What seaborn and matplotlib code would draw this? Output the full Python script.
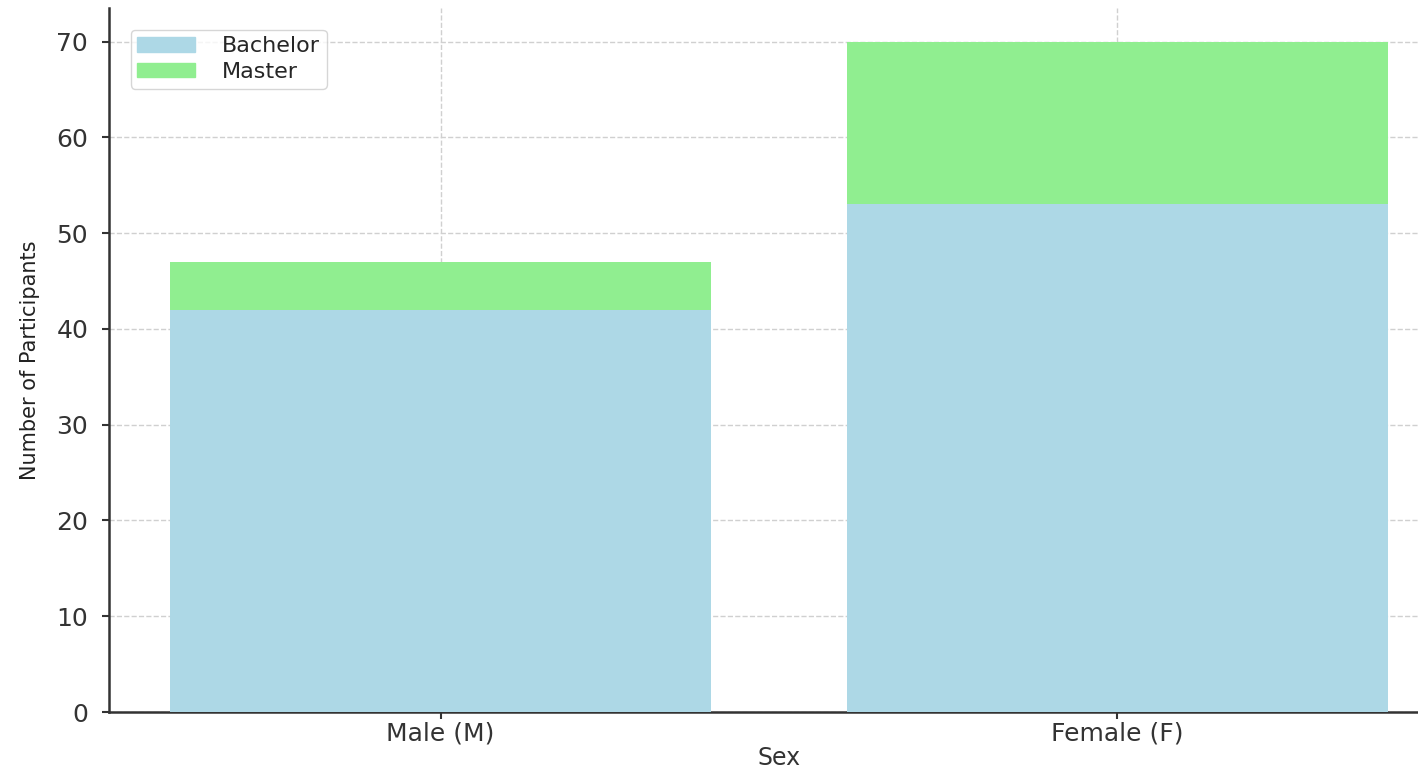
import numpy as np
import pandas as pd
import matplotlib
matplotlib.use("Agg")
import matplotlib.pyplot as plt
import seaborn as sns
from matplotlib.patches import Patch

# data
sexes = ["Male (M)", "Female (F)"]
bachelor = [42, 53]
master = [5, 17]

df = pd.DataFrame({"Sex": sexes, "Bachelor": bachelor, "Master": master})
df["Total"] = df["Bachelor"] + df["Master"]

sns.set_style("ticks")
plt.rcParams["font.family"] = ["DejaVu Sans"]

fig = plt.figure(figsize=(14.18, 7.67), dpi=100)
ax = fig.add_axes([109 / 1418, 55 / 767, 1340 / 1418, 704 / 767])

# stacked: total (master on top) first, bachelor drawn over it
sns.barplot(data=df, x="Sex", y="Total", color="lightgreen", width=0.8,
            saturation=1, linewidth=0, edgecolor="none", ax=ax, zorder=2)
sns.barplot(data=df, x="Sex", y="Bachelor", color="lightblue", width=0.8,
            saturation=1, linewidth=0, edgecolor="none", ax=ax, zorder=3)

ax.set_xlim(-0.49, 1.49)
ax.set_ylim(0, 73.5)
ax.grid(True, linestyle="--", color="#d0d0d0", linewidth=1, zorder=0)
ax.set_axisbelow(True)
for s in ["top", "right"]:
    ax.spines[s].set_visible(False)
ax.spines["left"].set_linewidth(1.8)
ax.spines["bottom"].set_linewidth(1.8)
ax.spines["left"].set_color("#333333")
ax.spines["bottom"].set_color("#333333")

ax.tick_params(axis="both", labelsize=18, colors="#333333", length=5, width=1.5)
ax.tick_params(axis="y", pad=10)
ax.tick_params(axis="x", pad=2)
ax.set_xlabel("Sex", fontsize=17, color="#333333", labelpad=0)
ax.set_ylabel("Number of Participants", fontsize=15, color="#222222", labelpad=12)

handles = [Patch(color="lightblue", label="Bachelor"),
           Patch(color="lightgreen", label="Master")]
ax.legend(handles=handles, loc="upper left", fontsize=16, frameon=True,
          handlelength=2.6, handleheight=0.6, handletextpad=1.2,
          borderpad=0.3, labelspacing=0.25, bbox_to_anchor=(0.008, 0.985))

plt.savefig("out.png", dpi=100)
plt.close()
